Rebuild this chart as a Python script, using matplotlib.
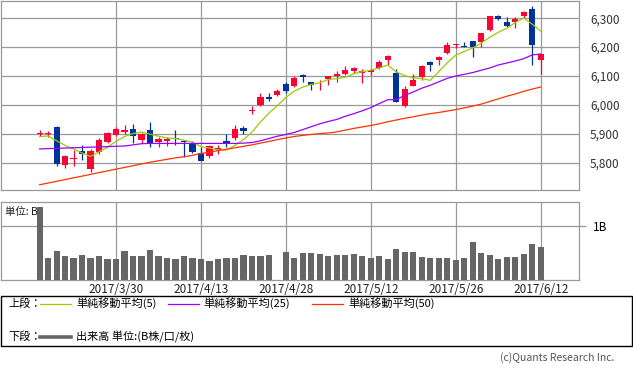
import numpy as np
import matplotlib
matplotlib.use("Agg")
import matplotlib.pyplot as plt
from matplotlib.lines import Line2D
from matplotlib.patches import Rectangle

plt.rcParams['font.family'] = ['Noto Sans CJK JP', 'DejaVu Sans']

# ---- data (daily, 2017/3/17 - 2017/6/12) ----
dates = ["3/17", "3/20", "3/21", "3/22", "3/23", "3/24", "3/27", "3/28", "3/29", "3/30",
         "3/31", "4/3", "4/4", "4/5", "4/6", "4/7", "4/10", "4/11", "4/12", "4/13",
         "4/17", "4/18", "4/19", "4/20", "4/21", "4/24", "4/25", "4/26", "4/27", "4/28",
         "5/1", "5/2", "5/3", "5/4", "5/5", "5/8", "5/9", "5/10", "5/11", "5/12",
         "5/15", "5/16", "5/17", "5/18", "5/19", "5/22", "5/23", "5/24", "5/25", "5/26",
         "5/30", "5/31", "6/1", "6/2", "6/5", "6/6", "6/7", "6/8", "6/9", "6/12"]

opens = [5899, 5899, 5925, 5792, 5812, 5842, 5777, 5837, 5872, 5895,
         5907, 5918, 5878, 5915, 5871, 5876, 5885, 5877, 5869, 5834,
         5823, 5843, 5877, 5886, 5922, 5979, 6001, 6028, 6036, 6073,
         6067, 6104, 6078, 6078, 6091, 6099, 6108, 6116, 6110, 6115,
         6128, 6156, 6110, 5998, 6067, 6095, 6149, 6154, 6181, 6206,
         6205, 6222, 6216, 6260, 6306, 6285, 6288, 6308, 6332, 6154]
highs = [5912, 5910, 5928, 5826, 5845, 5861, 5848, 5886, 5907, 5925,
         5931, 5933, 5903, 5940, 5890, 5888, 5912, 5880, 5877, 5855,
         5860, 5863, 5898, 5929, 5926, 5995, 6041, 6041, 6055, 6081,
         6101, 6107, 6080, 6087, 6101, 6119, 6136, 6131, 6124, 6124,
         6156, 6172, 6124, 6064, 6108, 6139, 6153, 6170, 6219, 6212,
         6218, 6222, 6248, 6308, 6312, 6303, 6303, 6325, 6342, 6177]
lows = [5892, 5890, 5790, 5781, 5790, 5808, 5768, 5829, 5870, 5893,
        5901, 5869, 5870, 5855, 5855, 5857, 5863, 5819, 5835, 5805,
        5818, 5829, 5855, 5880, 5899, 5970, 5998, 6015, 6032, 6041,
        6062, 6081, 6053, 6053, 6068, 6078, 6104, 6110, 6076, 6105,
        6124, 6139, 6009, 5993, 6064, 6087, 6119, 6139, 6176, 6196,
        6199, 6166, 6200, 6257, 6292, 6269, 6265, 6300, 6137, 6108]
closes = [5901, 5902, 5797, 5824, 5818, 5829, 5842, 5878, 5903, 5917,
          5915, 5894, 5901, 5869, 5883, 5883, 5882, 5871, 5837, 5806,
          5857, 5852, 5866, 5918, 5909, 5984, 6028, 6022, 6049, 6047,
          6093, 6097, 6070, 6080, 6101, 6108, 6122, 6128, 6118, 6122,
          6150, 6170, 6009, 6055, 6085, 6136, 6138, 6165, 6207, 6212,
          6202, 6200, 6248, 6308, 6297, 6274, 6298, 6322, 6206, 6177]

ma5 = [5890, 5893, 5876, 5860, 5848, 5834, 5822, 5838, 5854, 5874,
       5891, 5901, 5906, 5899, 5892, 5886, 5884, 5878, 5871, 5856,
       5851, 5845, 5844, 5860, 5880, 5906, 5941, 5972, 5998, 6026,
       6048, 6062, 6071, 6077, 6088, 6091, 6096, 6108, 6115, 6120,
       6128, 6138, 6114, 6101, 6094, 6091, 6085, 6116, 6146, 6172,
       6185, 6197, 6214, 6234, 6251, 6265, 6285, 6300, 6279, 6255]
ma25 = [5848, 5849, 5850, 5851, 5852, 5853, 5854, 5855, 5856, 5857,
        5858, 5862, 5866, 5867, 5867, 5867, 5867, 5867, 5867, 5867,
        5867, 5867, 5867, 5867, 5868, 5870, 5876, 5884, 5892, 5898,
        5905, 5915, 5925, 5935, 5943, 5950, 5961, 5970, 5980, 5991,
        6005, 6018, 6019, 6033, 6045, 6058, 6068, 6080, 6092, 6100,
        6106, 6112, 6120, 6128, 6138, 6145, 6152, 6160, 6173, 6176]
ma50 = [5724, 5730, 5736, 5742, 5748, 5754, 5760, 5766, 5772, 5778,
        5784, 5790, 5796, 5802, 5807, 5812, 5817, 5821, 5826, 5832,
        5837, 5842, 5847, 5852, 5857, 5862, 5868, 5874, 5880, 5886,
        5891, 5895, 5898, 5901, 5903, 5907, 5913, 5919, 5924, 5929,
        5935, 5942, 5948, 5954, 5959, 5965, 5970, 5974, 5979, 5984,
        5990, 5996, 6003, 6012, 6021, 6030, 6038, 6047, 6055, 6062]

# volume in B (4/27 missing)
volume = [1.35, 0.41, 0.54, 0.44, 0.41, 0.46, 0.41, 0.44, 0.39, 0.39,
          0.54, 0.44, 0.44, 0.56, 0.44, 0.41, 0.39, 0.44, 0.41, 0.39,
          0.35, 0.39, 0.41, 0.41, 0.46, 0.44, 0.44, 0.46, 0.0, 0.52,
          0.41, 0.50, 0.50, 0.48, 0.44, 0.46, 0.46, 0.48, 0.44, 0.41,
          0.44, 0.39, 0.57, 0.52, 0.52, 0.43, 0.41, 0.41, 0.41, 0.37,
          0.41, 0.70, 0.50, 0.46, 0.39, 0.43, 0.43, 0.48, 0.67, 0.61]

tick_dates = ["3/30", "4/13", "4/28", "5/12", "5/26", "6/12"]
price_ticks = [5800, 5900, 6000, 6100, 6200, 6300]

W, H = 633, 369
UP = '#ff0033'
DOWN = '#003399'
GRID = '#999999'

def fx(px):
    return px / W

def fy(py):
    return 1 - py / H

fig = plt.figure(figsize=(W / 100, H / 100), dpi=100)

x = np.arange(len(dates))
tick_pos = [dates.index(d) for d in tick_dates]

# ---- upper panel: candles + moving averages ----
ax = fig.add_axes([fx(0.5), fy(190), (579 - 0.5) / W, 189.5 / H])
ax.set_xlim(-4.6, 63.5)
ax.set_ylim(5706, 6361)

for i in x:
    o, c = opens[i], closes[i]
    col = UP if c >= o else DOWN
    ax.vlines(i, lows[i], highs[i], color=col, lw=0.9, zorder=3)
    body = max(abs(c - o), 3)
    ax.bar(i, body, bottom=min(o, c), width=0.72, color=col, lw=0, zorder=4)

ax.plot(x, ma5, color='#99cc00', lw=0.9, zorder=5)
ax.plot(x, ma25, color='#9900ff', lw=0.9, zorder=5)
ax.plot(x, ma50, color='#ff3300', lw=0.9, zorder=5)

ax.set_yticks(price_ticks)
ax.set_yticklabels([f"{v:,}" for v in price_ticks])
ax.yaxis.tick_right()
ax.tick_params(axis='y', length=0, pad=8, labelsize=8.5, labelcolor='#333333')
ax.set_xticks(tick_pos)
ax.set_xticklabels([])
ax.tick_params(axis='x', length=0)
ax.grid(True, color=GRID, lw=0.9)
ax.set_axisbelow(True)
for s in ax.spines.values():
    s.set_color(GRID)
    s.set_linewidth(0.9)

# ---- lower panel: volume ----
axv = fig.add_axes([fx(0.5), fy(280), (579 - 0.5) / W, (280 - 201.7) / H])
axv.set_xlim(-4.6, 63.5)
axv.set_ylim(0, 1.45)
axv.bar(x, volume, width=0.72, color='#666666', lw=0, zorder=3)
axv.set_yticks([1.0])
axv.set_yticklabels(['1B'])
axv.yaxis.tick_right()
axv.tick_params(axis='y', length=5, width=0.9, color=GRID, pad=5, labelsize=8.5)
axv.set_xticks(tick_pos)
axv.set_xticklabels(["2017/" + d for d in tick_dates])
axv.tick_params(axis='x', length=0, pad=2, labelsize=8.5, labelcolor='#222222')
axv.grid(True, color=GRID, lw=0.9)
axv.set_axisbelow(True)
for s in axv.spines.values():
    s.set_color(GRID)
    s.set_linewidth(0.9)
axv.text(0.008, 0.93, "単位: B", transform=axv.transAxes, fontsize=7.5,
         va='top', ha='left', color='#222222')

# ---- legend box ----
fig.add_artist(Rectangle((fx(1), fy(346)), 630.5 / W, (346 - 295.5) / H,
                         transform=fig.transFigure, fill=False,
                         edgecolor='black', lw=1.0))

fs = 8
fig.text(fx(8), fy(303.5), "上段：", fontsize=fs, va='center', ha='left')
fig.text(fx(8), fy(337), "下段：", fontsize=fs, va='center', ha='left')

legend_items = [
    (40, 71, '#99cc00', "単純移動平均(5)", 76),
    (168, 199, '#9900ff', "単純移動平均(25)", 203),
    (312, 343, '#ff3300', "単純移動平均(50)", 348),
]
for x0, x1, col, label, tx in legend_items:
    fig.add_artist(Line2D([fx(x0), fx(x1)], [fy(303.5), fy(303.5)],
                          transform=fig.transFigure, color=col, lw=0.9))
    fig.text(fx(tx), fy(303.5), label, fontsize=fs, va='center', ha='left')

fig.add_artist(Line2D([fx(40), fx(71)], [fy(337), fy(337)],
                      transform=fig.transFigure, color='#666666', lw=2.6))
fig.text(fx(76), fy(337), "出来高 単位:(B株/口/枚)", fontsize=fs, va='center', ha='left')

fig.text(fx(614), fy(358), "(c)Quants Research Inc.", fontsize=7.5,
         va='center', ha='right', color='#555555')

fig.savefig("out.png", dpi=100)
